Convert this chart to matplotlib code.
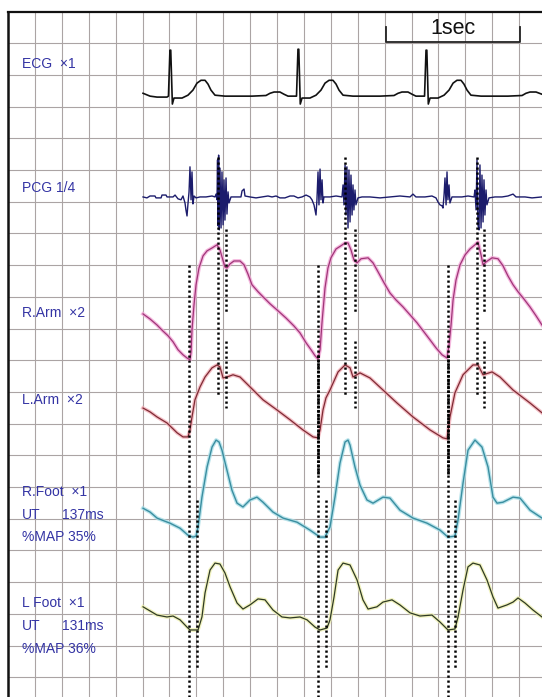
import numpy as np
import matplotlib.pyplot as plt

plt.rcParams['font.family'] = ['Liberation Sans', 'DejaVu Sans']

# time in seconds from the left border, amplitude in grid squares (up = positive)
ecg_t = [1.004, 1.056, 1.108, 1.182, 1.193, 1.204, 1.210, 1.222, 1.234, 1.294, 1.338, 1.375, 1.405,
         1.435, 1.465, 1.487, 1.509, 1.539, 1.613, 1.814, 1.918, 1.948, 1.978, 2.022, 2.052, 2.082,
         2.145, 2.156, 2.162, 2.173, 2.186, 2.245, 2.290, 2.327, 2.357, 2.387, 2.416, 2.439, 2.461,
         2.491, 2.565, 2.766, 2.870, 2.900, 2.929, 2.974, 3.004, 3.033, 3.097, 3.108, 3.114, 3.125,
         3.138, 3.197, 3.242, 3.279, 3.309, 3.338, 3.368, 3.390, 3.413, 3.442, 3.517, 3.717, 3.822,
         3.851, 3.881, 3.926, 3.970]
ecg_v = [0.09, 0.0, -0.03, -0.03, 0.0, 1.45, 1.45, -0.25, -0.06, -0.06, 0.03, 0.19, 0.41,
         0.50, 0.50, 0.38, 0.19, 0.03, 0.0, 0.0, 0.02, 0.09, 0.13, 0.13, 0.06, 0.0,
         0.0, 1.48, 1.48, -0.25, -0.06, -0.06, 0.03, 0.19, 0.41, 0.50, 0.50, 0.38, 0.19,
         0.03, 0.0, 0.0, 0.02, 0.09, 0.13, 0.13, 0.06, 0.0, 0.0, 1.45, 1.45, -0.25,
         -0.06, -0.06, 0.03, 0.19, 0.41, 0.50, 0.50, 0.38, 0.19, 0.03, 0.0, 0.0, 0.02,
         0.09, 0.13, 0.13, 0.06]

pcg_t = [1.004, 1.033, 1.056, 1.093, 1.100, 1.138, 1.145, 1.175, 1.182, 1.227, 1.242, 1.264, 1.286,
         1.301, 1.316, 1.323, 1.331, 1.338, 1.346, 1.353, 1.361, 1.368, 1.375, 1.383, 1.398, 1.428,
         1.472, 1.517, 1.539, 1.547, 1.554, 1.558, 1.561, 1.566, 1.571, 1.576, 1.584, 1.591, 1.599,
         1.606, 1.613, 1.621, 1.628, 1.636, 1.643, 1.658, 1.732, 1.740, 1.755, 1.762, 1.799, 1.844,
         1.888, 1.933, 1.963, 1.993, 2.022, 2.059, 2.097, 2.126, 2.156, 2.186, 2.216, 2.245, 2.260,
         2.275, 2.290, 2.297, 2.305, 2.312, 2.320, 2.327, 2.335, 2.342, 2.349, 2.394, 2.439, 2.483,
         2.491, 2.498, 2.506, 2.513, 2.520, 2.528, 2.535, 2.543, 2.550, 2.558, 2.565, 2.572, 2.580,
         2.587, 2.602, 2.632, 2.691, 2.766, 2.840, 2.914, 2.989, 3.011, 3.033, 3.100, 3.152, 3.182,
         3.197, 3.212, 3.227, 3.234, 3.242, 3.249, 3.257, 3.264, 3.271, 3.279, 3.286, 3.301, 3.331,
         3.375, 3.420, 3.465, 3.472, 3.480, 3.487, 3.494, 3.502, 3.509, 3.517, 3.524, 3.532, 3.539,
         3.546, 3.554, 3.561, 3.576, 3.621, 3.673, 3.717, 3.755, 3.777, 3.844, 3.896, 3.970]
pcg_v = [0.0, -0.03, 0.03, 0.03, -0.03, -0.03, 0.06, 0.06, 0.0, 0.0, 0.06, -0.06, -0.09,
         0.03, -0.19, -0.41, -0.60, -0.22, 0.16, 0.95, -0.09, 0.79, -0.22, 0.03, -0.03, 0.0,
         0.0, 0.03, 0.0, 0.09, -0.09, 1.17, -0.91, 1.32, -1.04, 0.91, -0.98, 0.79, -0.88,
         0.54, -0.73, 0.60, -0.54, 0.16, -0.19, 0.0, 0.0, 0.19, 0.25, 0.03, 0.0, -0.03,
         0.0, 0.03, 0.0, 0.03, -0.03, -0.03, 0.03, 0.03, -0.03, 0.0, 0.06, 0.0, -0.09,
         -0.25, -0.57, -0.09, 0.79, -0.25, 0.88, -0.09, 0.54, -0.19, 0.0, 0.0, 0.03, 0.0,
         0.38, -0.25, 1.01, -0.57, 0.95, -0.98, 0.85, -0.79, 0.69, -0.57, 0.38, -0.41, 0.22,
         -0.25, -0.03, 0.0, 0.0, -0.03, 0.0, 0.03, 0.0, 0.09, 0.0, 0.0, 0.03, -0.03,
         -0.16, -0.25, -0.28, -0.35, 0.06, 0.60, -0.25, 0.79, -0.09, 0.38, -0.19, 0.0, 0.0,
         0.0, 0.03, 0.0, 0.22, -0.41, 1.17, -0.88, -1.04, 1.01, -0.98, 0.69, -0.79, 0.54,
         -0.57, 0.22, -0.25, -0.03, 0.0, 0.0, 0.03, 0.09, 0.0, 0.0, -0.03, 0.0]

rarm_t = [1.004, 1.056, 1.108, 1.152, 1.190, 1.227, 1.264, 1.301, 1.331, 1.353, 1.361, 1.368, 1.383,
          1.398, 1.420, 1.450, 1.480, 1.517, 1.554, 1.576, 1.591, 1.613, 1.628, 1.651, 1.680, 1.725,
          1.755, 1.784, 1.814, 1.859, 1.903, 1.948, 2.007, 2.067, 2.126, 2.171, 2.216, 2.253, 2.283,
          2.305, 2.320, 2.335, 2.357, 2.379, 2.401, 2.439, 2.476, 2.506, 2.528, 2.550, 2.572, 2.595,
          2.625, 2.677, 2.714, 2.751, 2.796, 2.840, 2.885, 2.937, 2.989, 3.041, 3.093, 3.138, 3.182,
          3.227, 3.264, 3.279, 3.294, 3.309, 3.331, 3.361, 3.398, 3.435, 3.472, 3.494, 3.517, 3.532,
          3.554, 3.599, 3.643, 3.680, 3.717, 3.755, 3.792, 3.836, 3.881, 3.926, 3.970]
rarm_v = [1.45, 1.29, 1.10, 0.91, 0.76, 0.57, 0.32, 0.16, 0.06, 0.0, 0.25, 0.95, 1.74,
          2.37, 2.90, 3.28, 3.44, 3.53, 3.63, 3.47, 3.25, 2.93, 2.90, 3.03, 3.12, 3.12,
          3.00, 2.71, 2.37, 2.15, 1.96, 1.77, 1.55, 1.32, 1.07, 0.85, 0.54, 0.32, 0.13,
          0.03, 0.32, 1.20, 2.27, 2.90, 3.22, 3.50, 3.60, 3.69, 3.69, 3.47, 3.15, 3.06,
          3.19, 3.22, 3.06, 2.78, 2.43, 2.11, 1.89, 1.67, 1.42, 1.17, 0.88, 0.63, 0.38,
          0.16, 0.06, 0.47, 1.10, 1.89, 2.52, 3.00, 3.31, 3.50, 3.63, 3.72, 3.31, 3.00,
          3.09, 3.22, 3.19, 2.97, 2.65, 2.37, 2.15, 1.92, 1.67, 1.39, 1.10]

larm_t = [1.004, 1.056, 1.108, 1.182, 1.257, 1.301, 1.338, 1.353, 1.368, 1.390, 1.428, 1.465, 1.517,
          1.554, 1.576, 1.599, 1.628, 1.673, 1.725, 1.799, 1.896, 2.000, 2.097, 2.193, 2.268, 2.305,
          2.320, 2.342, 2.364, 2.394, 2.454, 2.506, 2.543, 2.565, 2.617, 2.691, 2.788, 2.892, 3.011,
          3.138, 3.234, 3.264, 3.286, 3.323, 3.383, 3.457, 3.494, 3.532, 3.599, 3.658, 3.755, 3.881,
          3.970]
larm_v = [0.91, 0.79, 0.63, 0.44, 0.13, 0.0, 0.0, 0.22, 0.63, 1.17, 1.58, 1.89, 2.18,
          2.27, 2.21, 1.86, 1.89, 1.96, 1.89, 1.58, 1.17, 0.85, 0.54, 0.22, 0.0, -0.03,
          0.22, 0.85, 1.23, 1.48, 2.05, 2.27, 2.18, 1.89, 2.02, 1.86, 1.48, 1.07, 0.63,
          0.22, -0.03, -0.06, 0.63, 1.39, 1.96, 2.27, 2.27, 1.96, 2.05, 1.89, 1.48, 1.07,
          0.76]

rfoot_t = [1.004, 1.056, 1.108, 1.167, 1.204, 1.279, 1.338, 1.375, 1.398, 1.413, 1.442, 1.480, 1.517,
           1.547, 1.569, 1.591, 1.628, 1.665, 1.703, 1.747, 1.799, 1.851, 1.896, 1.970, 2.045, 2.149,
           2.245, 2.320, 2.357, 2.394, 2.431, 2.468, 2.506, 2.528, 2.543, 2.580, 2.617, 2.669, 2.714,
           2.788, 2.840, 2.914, 3.011, 3.115, 3.212, 3.271, 3.323, 3.346, 3.383, 3.420, 3.472, 3.524,
           3.569, 3.606, 3.636, 3.680, 3.755, 3.807, 3.881, 3.970]
rfoot_v = [0.91, 0.79, 0.60, 0.50, 0.44, 0.28, 0.06, 0.0, 0.03, 0.32, 1.26, 2.21, 2.84,
           3.06, 3.00, 2.74, 2.11, 1.48, 1.07, 0.95, 1.17, 1.26, 1.10, 0.79, 0.60, 0.47,
           0.22, 0.0, 0.0, 0.32, 1.26, 2.33, 3.00, 3.06, 2.90, 2.21, 1.64, 1.17, 1.07,
           1.26, 1.23, 0.85, 0.60, 0.44, 0.22, 0.0, 0.03, 0.54, 1.70, 2.74, 3.06, 2.84,
           2.21, 1.26, 1.07, 1.10, 1.26, 1.23, 0.85, 0.60]

lfoot_t = [1.004, 1.056, 1.108, 1.182, 1.227, 1.279, 1.331, 1.353, 1.413, 1.442, 1.465, 1.502, 1.539,
           1.576, 1.613, 1.651, 1.703, 1.747, 1.799, 1.859, 1.911, 1.970, 2.037, 2.097, 2.171, 2.223,
           2.283, 2.320, 2.372, 2.394, 2.424, 2.454, 2.491, 2.543, 2.595, 2.639, 2.677, 2.743, 2.788,
           2.855, 2.914, 2.989, 3.063, 3.152, 3.212, 3.271, 3.323, 3.346, 3.383, 3.420, 3.457, 3.509,
           3.561, 3.606, 3.643, 3.710, 3.755, 3.792, 3.844, 3.903, 3.970]
lfoot_v = [0.73, 0.60, 0.47, 0.41, 0.44, 0.32, 0.09, 0.0, 0.0, 0.41, 1.17, 1.89, 2.11,
           2.08, 1.80, 1.36, 0.85, 0.66, 0.79, 0.98, 0.95, 0.63, 0.41, 0.38, 0.41, 0.32,
           0.09, 0.0, 0.06, 0.32, 1.04, 1.89, 2.11, 2.05, 1.58, 0.95, 0.66, 0.73, 0.88,
           0.95, 0.79, 0.54, 0.44, 0.47, 0.25, 0.0, 0.03, 0.41, 1.26, 1.99, 2.11, 2.05,
           1.58, 1.04, 0.69, 0.79, 0.88, 1.01, 0.85, 0.63, 0.41]

# timing markers (s) drawn as dotted verticals
foot_arm_t = [1.346, 2.305, 3.271]
foot_leg_t = [1.405, 2.364, 3.323]
peak_t = [1.561, 2.506, 3.487]
notch_t = [1.621, 2.580, 3.539]

labels = ['ECG ×1', 'PCG 1/4', 'R.Arm ×2', 'L.Arm ×2', 'R.Foot ×1', 'L Foot ×1']
ut_ms = [137, 131]
map_pct = [35, 36]

# ---- layout ----
W, H = 542, 697
px_per_s, px_per_row = 134.5, 31.7
x0, y0 = 8, 11.5
fig = plt.figure(figsize=(W / 100, H / 100), dpi=100)
ax = fig.add_axes([0, 0, 1, 1])
ax.set_xlim(-x0 / px_per_s, (W - x0) / px_per_s)
ax.set_ylim((H - y0) / px_per_row, -y0 / px_per_row)
ax.axis('off')

xmax = (W - x0) / px_per_s
ymax = (H - y0) / px_per_row
grid_c = '#aba4a4'
ax.vlines(np.arange(1, 20) * 0.2, 0, ymax, color=grid_c, lw=0.8, zorder=1)
ax.hlines(np.arange(1, 22), 0, xmax, color=grid_c, lw=0.8, zorder=1)
ax.plot([0, 0], [0, ymax], color='#111111', lw=1.8, zorder=5)
ax.plot([0, xmax], [0, 0], color='#111111', lw=1.6, zorder=5)

# scale bar
ax.plot([2.81, 2.81, 3.805, 3.805], [0.49, 0.96, 0.96, 0.49], color='#222222', lw=1.3, zorder=5)
ax.text(3.309, 0.53, '1sec', fontsize=15.5, ha='center', va='center', color='#111111')

base_rows = {'ecg': 2.67, 'pcg': 5.85, 'rarm': 10.99, 'larm': 13.42, 'rfoot': 16.58, 'lfoot': 19.51}

def trace(t, v, row, color, halo=None, lw=1.0):
    y = row - np.asarray(v)
    if halo:
        ax.plot(t, y, color=halo, lw=lw + 1.8, alpha=0.8, zorder=2, solid_joinstyle='round')
    ax.plot(t, y, color=color, lw=lw, zorder=3, solid_joinstyle='round')

trace(ecg_t, ecg_v, base_rows['ecg'], '#111111', lw=1.2)
trace(pcg_t, pcg_v, base_rows['pcg'], '#1c1c6c', lw=1.0)
trace(rarm_t, rarm_v, base_rows['rarm'], '#a03578', halo='#f2a6d6', lw=0.9)
trace(larm_t, larm_v, base_rows['larm'], '#7e2a34', halo='#f2b0b8', lw=0.9)
trace(rfoot_t, rfoot_v, base_rows['rfoot'], '#3a8ea0', halo='#a8dde6', lw=1.0)
trace(lfoot_t, lfoot_v, base_rows['lfoot'], '#2f3a24', halo='#eef0b0', lw=0.9)

dot = dict(color='black', lw=1.8, linestyle=(0, (0.9, 1.1)), dash_capstyle='butt', zorder=4)
for t in foot_arm_t:
    ax.plot([t, t], [8.0, ymax], **dot)
for t in foot_leg_t:
    ax.plot([t, t], [15.4, 20.7], **dot)
for t in peak_t:
    ax.plot([t, t], [4.6, 12.1], **dot)
for t in notch_t:
    ax.plot([t, t], [6.85, 9.5], **dot)
    ax.plot([t, t], [10.4, 12.5], **dot)
for t in foot_arm_t[1:]:
    ax.plot([t, t], [10.85, 14.6], color='black', lw=2.0,
            linestyle=(0, (0.9, 0.5)), dash_capstyle='butt', zorder=4)

# labels
txt = dict(fontsize=10, color='#3434a4', va='center', ha='left')
lx = 0.104
label_rows = [1.66, 5.57, 9.51, 12.25, 15.16, 18.66]
for lab, r in zip(labels, label_rows):
    ax.text(lx, r, lab.replace(' ×', '  ×'), **txt)
for ut, mp, r in zip(ut_ms, map_pct, [15.88, 19.39]):
    ax.text(lx, r, 'UT', **txt)
    ax.text(0.401, r, f'{ut}ms', **txt)
    ax.text(lx, r + 0.71, f'%MAP {mp}%', **txt)

fig.savefig('out.png', dpi=100, facecolor='white')
